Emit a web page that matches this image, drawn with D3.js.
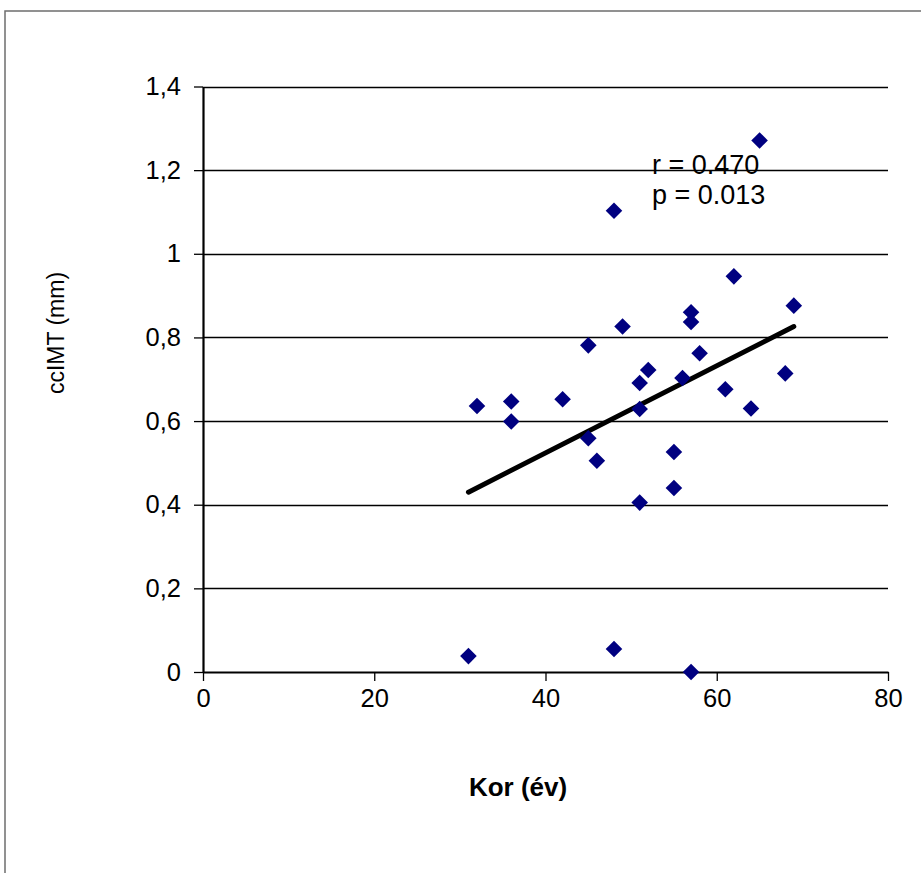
<!DOCTYPE html>
<html>
<head>
<meta charset="utf-8">
<script src="https://cdn.jsdelivr.net/npm/d3@7"></script>
<style>
  html, body { margin: 0; padding: 0; background: #fff; }
  svg { display: block; }
  text { font-family: Arial, "Liberation Sans", sans-serif; fill: #000; }
</style>
</head>
<body>
<svg id="chart" width="921" height="873"></svg>
<script>
// Data
const ageYears = [31, 32, 36, 36, 42, 45, 45, 46, 48, 48, 49, 51, 51, 51, 52, 55, 55, 56, 57, 57, 57, 58, 61, 62, 64, 65, 68, 69];
const ccimtMm  = [0.038, 0.636, 0.647, 0.599, 0.652, 0.781, 0.559, 0.505, 1.103, 0.055, 0.826, 0.691, 0.629, 0.405, 0.722, 0.526, 0.44, 0.703, 0.860, 0.837, 0.0, 0.762, 0.676, 0.946, 0.630, 1.271, 0.714, 0.876];
const trendX = [31, 69];
const trendY = [0.43, 0.826];
const xTicks = [0, 20, 40, 60, 80];
const yTicks = [0, 0.2, 0.4, 0.6, 0.8, 1.0, 1.2, 1.4];
const annotation = ["r = 0.470", "p = 0.013"];
const xTitle = "Kor (év)";
const yTitle = "ccIMT (mm)";

const svg = d3.select("#chart");
const plotLeft = 203, plotRight = 888, plotTop = 86.5, plotBottom = 672;

const x = d3.scaleLinear().domain([0, 80]).range([plotLeft, plotRight]);
const y = d3.scaleLinear().domain([0, 1.4]).range([plotBottom, plotTop]);

// outer frame
svg.append("rect").attr("x", 5).attr("y", 11).attr("width", 930).attr("height", 880)
  .attr("fill", "none").attr("stroke", "#6e6e6e").attr("stroke-width", 1.5);

// gridlines
svg.append("g").selectAll("line").data(yTicks.filter(d => d > 0)).join("line")
  .attr("x1", plotLeft).attr("x2", plotRight)
  .attr("y1", d => Math.round(y(d)) + 0.5).attr("y2", d => Math.round(y(d)) + 0.5)
  .attr("stroke", "#000").attr("stroke-width", 1.3);

// y axis
const fmt = d => d === 0 ? "0" : (d === 1 ? "1" : d3.format(".1f")(d).replace(".", ","));
const yAxis = svg.append("g").attr("transform", `translate(${plotLeft},0)`)
  .call(d3.axisLeft(y).tickValues(yTicks).tickFormat(fmt).tickSizeInner(9).tickSizeOuter(0).tickPadding(13));
yAxis.select(".domain").attr("stroke", "#000").attr("stroke-width", 2.2);
yAxis.selectAll(".tick line").attr("stroke", "#000").attr("stroke-width", 1.3);
yAxis.selectAll("text").attr("font-size", 25.5).attr("fill", "#000").style("font-family", "Arial, 'Liberation Sans', sans-serif");

// x axis
const xAxis = svg.append("g").attr("transform", `translate(0,${plotBottom})`)
  .call(d3.axisBottom(x).tickValues(xTicks).tickSizeInner(9).tickSizeOuter(0).tickPadding(8));
xAxis.select(".domain").attr("stroke", "#000").attr("stroke-width", 2.2);
xAxis.selectAll(".tick line").attr("stroke", "#000").attr("stroke-width", 1.3);
xAxis.selectAll("text").attr("font-size", 25.5).attr("fill", "#000").style("font-family", "Arial, 'Liberation Sans', sans-serif");

// trend line
const pts = trendX.map((d, i) => [x(d), y(trendY[i])]);
svg.append("path").attr("d", d3.line()(pts))
  .attr("stroke", "#000").attr("stroke-width", 5).attr("stroke-linecap", "round").attr("fill", "none");

// markers
const diamond = d3.symbol().type(d3.symbolDiamond2).size(175);
svg.append("g").selectAll("path").data(ageYears.map((d, i) => [d, ccimtMm[i]])).join("path")
  .attr("d", diamond)
  .attr("transform", d => `translate(${x(d[0])},${y(d[1])})`)
  .attr("fill", "#000080");

// annotation
svg.append("g").selectAll("text").data(annotation).join("text")
  .attr("x", 652).attr("y", (d, i) => 174 + i * 30)
  .attr("font-size", 27).text(d => d);

// axis titles
svg.append("text").attr("x", 518).attr("y", 796).attr("text-anchor", "middle")
  .attr("font-size", 26).attr("font-weight", "bold").text(xTitle);
svg.append("text").attr("transform", "translate(64,333) rotate(-90)").attr("text-anchor", "middle")
  .attr("font-size", 23).text(yTitle);
</script>
</body>
</html>
